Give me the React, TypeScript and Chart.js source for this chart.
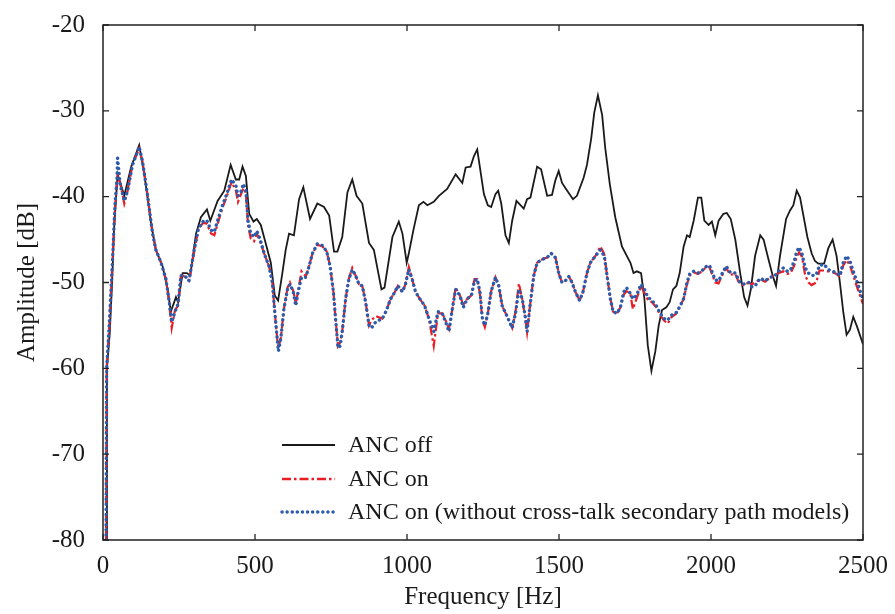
import React, { useEffect, useRef } from "react";
import { Chart, registerables } from "chart.js";

Chart.register(...registerables);

// ANC off (black)
const offFreq = [10,13,22,30,36,48,58,70,92,119,136,158,174,196,213,223,240,247,262,276,287,306,322,342,353,377,399,420,437,448,459,470,481,495,506,519,535,552,565,576,590,601,612,628,645,659,681,705,727,744,760,771,787,804,820,834,853,875,891,916,926,952,973,985,999,1006,1021,1039,1054,1067,1088,1105,1132,1160,1182,1193,1209,1220,1231,1253,1266,1277,1291,1300,1310,1324,1335,1346,1360,1384,1395,1406,1428,1441,1461,1477,1488,1499,1510,1527,1546,1559,1581,1592,1606,1616,1628,1642,1652,1667,1685,1707,1726,1735,1745,1756,1770,1781,1792,1804,1817,1828,1839,1853,1864,1875,1886,1897,1910,1921,1930,1943,1957,1968,1978,1992,2003,2014,2025,2041,2052,2065,2080,2096,2109,2120,2131,2145,2162,2173,2189,2203,2214,2227,2247,2260,2271,2282,2293,2304,2317,2331,2342,2353,2372,2386,2400,2413,2424,2435,2446,2457,2468,2481,2500];
const offAmp = [-80,-60,-56,-50,-44,-37.4,-38.5,-39.9,-36.6,-34.0,-37.4,-43.1,-46.2,-48.1,-50.8,-53.4,-51.7,-52.3,-48.9,-48.9,-49.2,-44.3,-42.4,-41.5,-42.8,-40.5,-39.3,-36.3,-38.0,-38.0,-36.5,-37.6,-42.0,-42.9,-42.6,-43.3,-45.4,-47.7,-51.5,-52.1,-48.9,-46.2,-44.3,-44.5,-40.3,-38.9,-42.6,-40.8,-41.2,-42.2,-46.4,-46.4,-44.7,-39.5,-38.0,-39.9,-40.8,-45.4,-46.2,-50.8,-50.6,-44.7,-42.9,-44.3,-47.7,-46.6,-43.9,-41.0,-40.6,-41.0,-40.6,-39.9,-39.1,-37.4,-38.4,-36.6,-36.5,-35.3,-34.5,-39.7,-41.0,-41.2,-39.7,-39.3,-40.8,-44.5,-45.4,-42.8,-40.5,-41.4,-40.3,-40.1,-36.5,-36.8,-39.9,-39.8,-38.1,-37.0,-38.4,-39.3,-40.3,-39.9,-37.8,-36.3,-33.2,-30.2,-28.2,-30.5,-34.3,-38.5,-42.4,-45.8,-47.1,-47.7,-48.9,-48.7,-48.9,-51.9,-57.3,-60.3,-58.0,-55.0,-53.2,-52.9,-52.3,-50.8,-50.4,-48.9,-45.8,-44.5,-44.7,-42.8,-40.1,-40.1,-42.8,-43.3,-42.9,-44.5,-42.8,-42.0,-41.9,-42.6,-45.0,-48.9,-51.7,-52.7,-50.8,-46.9,-44.5,-45.0,-47.3,-49.2,-50.4,-46.9,-42.6,-41.6,-41.0,-39.3,-40.1,-42.2,-44.7,-46.6,-47.5,-47.8,-47.8,-46.0,-45.0,-46.9,-50.0,-53.4,-56.1,-55.5,-54.0,-55.2,-57.2];

// ANC on (red) and ANC on without cross-talk models (blue), shared frequencies
const onFreq = [10,12,21,32,39,46,48,57,70,81,97,119,130,146,163,174,191,207,218,226,237,247,256,269,283,300,314,331,342,355,366,377,393,407,423,437,444,453,462,470,477,486,497,506,517,530,546,557,565,574,577,585,595,607,615,626,634,642,653,667,678,689,705,722,736,747,758,765,773,780,787,798,809,820,831,842,853,864,875,883,897,919,933,946,957,970,985,995,1006,1017,1028,1042,1058,1072,1088,1102,1116,1127,1138,1149,1160,1174,1185,1198,1212,1222,1231,1240,1248,1256,1266,1277,1291,1302,1313,1330,1346,1357,1368,1379,1390,1395,1406,1417,1428,1445,1461,1474,1488,1499,1510,1521,1532,1543,1554,1568,1579,1592,1603,1620,1636,1649,1658,1669,1678,1691,1702,1713,1722,1735,1743,1755,1770,1781,1792,1806,1820,1833,1845,1857,1871,1886,1899,1910,1921,1930,1943,1957,1971,1981,1995,2003,2014,2025,2036,2050,2063,2080,2094,2107,2124,2134,2145,2162,2178,2195,2211,2222,2238,2251,2262,2274,2282,2290,2299,2310,2321,2331,2346,2357,2372,2386,2400,2413,2424,2435,2446,2457,2468,2481,2500];
const onAmp = [-80,-60,-55,-47,-41.5,-38,-37.6,-38.5,-40.8,-39.3,-36.3,-34.4,-35.9,-39.7,-44.3,-46.2,-47.7,-49.6,-52.5,-55.3,-53.2,-52.7,-49.2,-49.3,-49.8,-46.4,-43.7,-43.0,-43.2,-44.3,-44.5,-43.2,-41.3,-40.0,-38.3,-39.3,-40.6,-39.8,-39.0,-39.6,-43.3,-44.9,-45.2,-44.3,-45.2,-46.6,-48.1,-50.0,-53.4,-56.9,-57.6,-56.5,-53.1,-50.6,-50.0,-51.0,-52.4,-51.0,-48.7,-49.3,-48.1,-46.6,-45.6,-45.8,-46.4,-48.1,-51.1,-54.2,-57.4,-57.0,-55.7,-51.9,-49.5,-48.3,-49.2,-50.2,-50.4,-52.3,-55.0,-54.4,-53.9,-54.2,-53.2,-51.9,-51.3,-50.4,-51.1,-50.2,-48.2,-49.6,-51.1,-51.9,-52.7,-54.2,-57.4,-53.6,-53.6,-54.4,-55.4,-53.1,-50.6,-51.5,-52.6,-51.9,-51.5,-49.6,-49.6,-51.3,-54.4,-55.2,-53.6,-51.0,-49.4,-50.4,-52.7,-54.0,-55.3,-53.4,-50.1,-51.9,-54.4,-55.8,-52.3,-49.2,-47.7,-47.3,-47.1,-46.6,-47.0,-48.9,-50.0,-49.8,-49.3,-50.0,-51.1,-52.1,-51.1,-48.9,-47.7,-46.9,-45.8,-46.7,-49.2,-51.9,-53.4,-53.6,-52.9,-51.4,-51.0,-51.4,-53.1,-51.9,-50.4,-51.2,-52.0,-52.3,-52.9,-53.8,-54.4,-54.8,-54.0,-53.6,-52.7,-51.9,-50.2,-49.2,-48.8,-49.0,-48.7,-48.3,-48.2,-49.0,-50.0,-50.1,-49.2,-48.3,-49.1,-49.0,-50.2,-50.3,-50.0,-50.2,-50.0,-49.6,-49.9,-49.4,-49.2,-48.9,-48.7,-49.0,-48.9,-48.0,-47.0,-46.5,-47.0,-49.2,-50.0,-50.3,-50.0,-48.6,-48.6,-48.7,-48.8,-49.0,-49.4,-48.0,-47.4,-48.0,-49.2,-50.6,-52.5];
const onNoXtalkAmp = [-80,-60,-54.6,-46.9,-41.2,-37.8,-35.5,-38.7,-40.5,-39.3,-36.3,-34.2,-35.9,-39.7,-44.3,-46.2,-47.7,-49.6,-52.3,-54.6,-53.4,-52.5,-49.2,-49.2,-49.8,-46.2,-43.7,-42.8,-42.8,-43.9,-44.1,-42.8,-41.0,-39.7,-38.0,-38.7,-39.9,-39.5,-38.5,-39.3,-42.8,-44.3,-44.7,-44.0,-45.0,-46.6,-48.1,-50.0,-53.4,-56.9,-58.0,-56.5,-53.1,-50.8,-50.2,-51.1,-52.7,-51.1,-49.4,-49.4,-48.1,-46.6,-45.5,-45.7,-46.4,-48.1,-51.1,-54.2,-57.6,-57.4,-55.7,-51.9,-49.6,-48.5,-49.2,-50.2,-50.4,-52.3,-55.0,-55.3,-54.6,-54.2,-53.2,-51.9,-51.3,-50.4,-51.1,-50.2,-48.5,-49.6,-51.1,-51.9,-52.7,-54.2,-55.7,-53.4,-53.6,-54.6,-55.7,-53.1,-50.8,-51.5,-52.9,-51.9,-51.5,-49.8,-49.6,-51.1,-54.2,-55.0,-53.6,-51.0,-49.4,-50.4,-52.7,-54.0,-55.3,-53.6,-50.8,-51.9,-54.2,-55.7,-52.3,-49.2,-47.7,-47.3,-47.1,-46.6,-47.1,-48.9,-50.0,-49.8,-49.3,-50.0,-51.1,-52.1,-51.1,-48.9,-47.7,-46.9,-46.2,-46.9,-49.2,-51.9,-53.4,-53.6,-52.9,-51.1,-50.6,-51.3,-51.9,-51.5,-50.2,-50.8,-51.7,-52.1,-52.7,-53.6,-54.2,-54.4,-53.8,-53.5,-52.7,-51.9,-50.0,-49.0,-48.7,-48.9,-48.6,-48.2,-48.0,-48.7,-49.7,-49.8,-49.0,-48.1,-48.8,-48.9,-49.9,-50.2,-50.0,-50.5,-50.4,-49.5,-49.8,-49.4,-49.2,-48.7,-48.3,-48.7,-48.5,-47.5,-46.4,-45.9,-46.6,-48.3,-48.9,-49.2,-49.1,-48.0,-47.9,-48.5,-48.7,-48.9,-49.2,-47.7,-46.9,-47.5,-48.7,-50.0,-52.0];

const seriesNames = ["ANC off", "ANC on", "ANC on (without cross-talk secondary path models)"];
const xTicks = [0, 500, 1000, 1500, 2000, 2500];
const yTicks = [-80, -70, -60, -50, -40, -30, -20];

const FONT = '"Liberation Serif", "Times New Roman", serif';
const BLACK = "#1a1a1a";
const RED = "#ea1c24";
const BLUE = "#2d5bab";

const toPoints = (xs: number[], ys: number[]) => xs.map((x, i) => ({ x, y: ys[i] }));

const framePlugin = {
  id: "frame",
  afterDraw(chart: any) {
    const { ctx, chartArea: a, scales } = chart;
    ctx.save();
    ctx.strokeStyle = "#222";
    ctx.lineWidth = 1.5;
    ctx.strokeRect(a.left, a.top, a.right - a.left, a.bottom - a.top);
    ctx.lineWidth = 1.3;
    const tl = 6;
    ctx.beginPath();
    xTicks.forEach((v) => {
      const px = scales.x.getPixelForValue(v);
      ctx.moveTo(px, a.bottom);
      ctx.lineTo(px, a.bottom - tl);
      ctx.moveTo(px, a.top);
      ctx.lineTo(px, a.top + tl);
    });
    yTicks.forEach((v) => {
      const py = scales.y.getPixelForValue(v);
      ctx.moveTo(a.left, py);
      ctx.lineTo(a.left + tl, py);
      ctx.moveTo(a.right, py);
      ctx.lineTo(a.right - tl, py);
    });
    ctx.stroke();

    // legend
    const styles = [
      { color: BLACK, width: 1.8, dash: [] as number[], cap: "butt" },
      { color: RED, width: 2.4, dash: [9, 3, 2.5, 3], cap: "butt" },
      { color: BLUE, width: 3.4, dash: [0.1, 5], cap: "round" },
    ];
    const rowsY = [445, 479, 512];
    const x0 = 282, x1 = 335, tx = 348;
    seriesNames.forEach((name, i) => {
      const s = styles[i];
      ctx.beginPath();
      ctx.setLineDash(s.dash);
      ctx.lineCap = s.cap;
      ctx.strokeStyle = s.color;
      ctx.lineWidth = s.width;
      ctx.moveTo(x0, rowsY[i]);
      ctx.lineTo(x1, rowsY[i]);
      ctx.stroke();
      ctx.setLineDash([]);
      ctx.fillStyle = "#1a1a1a";
      ctx.font = `24px ${FONT}`;
      ctx.textBaseline = "middle";
      ctx.textAlign = "left";
      ctx.fillText(name, tx, rowsY[i] + 1);
    });
    ctx.restore();
  },
};

export default function App() {
  const ref = useRef<HTMLCanvasElement | null>(null);
  useEffect(() => {
    if (!ref.current) return;
    const chart = new Chart(ref.current, {
      type: "line",
      data: {
        datasets: [
          {
            label: seriesNames[2],
            data: toPoints(onFreq, onNoXtalkAmp),
            borderColor: BLUE,
            borderWidth: 3.4,
            borderDash: [0.1, 5],
            borderCapStyle: "round",
            pointRadius: 0,
            tension: 0,
            order: 1,
          },
          {
            label: seriesNames[1],
            data: toPoints(onFreq, onAmp),
            borderColor: RED,
            borderWidth: 2.2,
            borderDash: [9, 3, 2.5, 3],
            pointRadius: 0,
            tension: 0,
            order: 2,
          },
          {
            label: seriesNames[0],
            data: toPoints(offFreq, offAmp),
            borderColor: BLACK,
            borderWidth: 1.8,
            pointRadius: 0,
            tension: 0,
            order: 3,
          },
        ],
      },
      options: {
        responsive: false,
        animation: false,
        parsing: false as any,
        layout: { padding: { top: 18, right: 32, left: 0, bottom: 0 } },
        plugins: { legend: { display: false }, tooltip: { enabled: false } },
        scales: {
          x: {
            type: "linear",
            min: 0,
            max: 2500,
            grid: { display: false },
            border: { display: false },
            afterBuildTicks: (s: any) => {
              s.ticks = xTicks.map((v) => ({ value: v }));
            },
            afterFit: (s: any) => {
              s.height = 74;
            },
            ticks: {
              color: "#1a1a1a",
              font: { family: FONT, size: 25 },
              padding: 3,
              maxRotation: 0,
              callback: (v: any) => String(v),
            },
            title: {
              display: true,
              text: "Frequency [Hz]",
              color: "#1a1a1a",
              font: { family: FONT, size: 25 },
              padding: { top: 0, bottom: 2 },
            },
          },
          y: {
            type: "linear",
            min: -80,
            max: -20,
            grid: { display: false },
            border: { display: false },
            afterBuildTicks: (s: any) => {
              s.ticks = yTicks.map((v) => ({ value: v }));
            },
            afterFit: (s: any) => {
              s.width = 103;
            },
            ticks: {
              color: "#1a1a1a",
              font: { family: FONT, size: 25 },
              padding: 10,
              callback: (v: any) => String(v),
            },
            title: {
              display: true,
              text: "Amplitude [dB]",
              color: "#1a1a1a",
              font: { family: FONT, size: 25 },
              padding: { top: 12, bottom: 0 },
            },
          },
        },
      },
      plugins: [framePlugin],
    });
    return () => chart.destroy();
  }, []);
  return (
    <canvas
      ref={ref}
      width={895}
      height={614}
      style={{ position: "fixed", left: 0, top: 0, display: "block", background: "#fff" }}
    />
  );
}
